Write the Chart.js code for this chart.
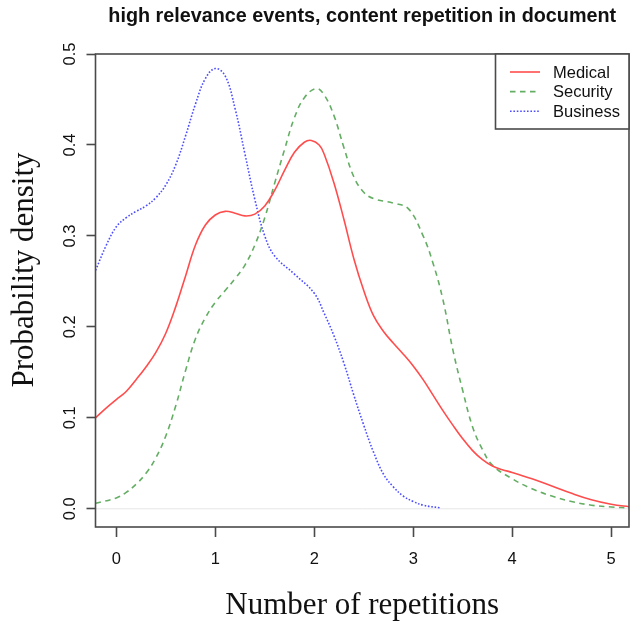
<!DOCTYPE html>
<html>
<head>
<meta charset="utf-8">
<script src="https://cdn.jsdelivr.net/npm/chart.js@4.4.1/dist/chart.umd.min.js"></script>
<style>
  html, body { margin: 0; padding: 0; background: #fff; }
  #wrap { width: 630px; height: 622px; position: relative; }
</style>
</head>
<body>
<div id="wrap"><canvas id="c" width="630" height="622"></canvas></div>
<script>
// Kernel density estimates of content repetition, one curve per domain
const seriesNames = ['Medical', 'Security', 'Business'];

const medicalX = [-0.21, -0.1, 0, 0.1, 0.2, 0.3, 0.4, 0.5, 0.6, 0.7, 0.8, 0.9, 1.0, 1.1, 1.2, 1.3, 1.4, 1.5, 1.6, 1.7, 1.8, 1.9, 1.97, 2.05, 2.1, 2.2, 2.3, 2.4, 2.5, 2.6, 2.7, 2.8, 2.9, 3.0, 3.1, 3.2, 3.3, 3.4, 3.5, 3.6, 3.7, 3.8, 3.9, 4.0, 4.2, 4.4, 4.6, 4.8, 5.0, 5.2];
const medicalY = [0.100, 0.111, 0.120, 0.129, 0.142, 0.156, 0.172, 0.193, 0.222, 0.256, 0.290, 0.312, 0.323, 0.327, 0.325, 0.322, 0.324, 0.333, 0.350, 0.372, 0.392, 0.403, 0.405, 0.400, 0.390, 0.358, 0.318, 0.275, 0.240, 0.212, 0.195, 0.182, 0.170, 0.157, 0.142, 0.125, 0.108, 0.092, 0.077, 0.064, 0.054, 0.047, 0.043, 0.040, 0.033, 0.025, 0.017, 0.010, 0.005, 0.002];

const securityX = [-0.21, 0, 0.1, 0.2, 0.3, 0.4, 0.5, 0.6, 0.7, 0.8, 0.9, 1.0, 1.1, 1.2, 1.3, 1.4, 1.5, 1.6, 1.7, 1.8, 1.9, 2.02, 2.1, 2.2, 2.3, 2.4, 2.5, 2.6, 2.8, 2.95, 3.1, 3.2, 3.3, 3.4, 3.5, 3.6, 3.7, 3.8, 4.0, 4.2, 4.4, 4.6, 4.8, 5.0, 5.2];
const securityY = [0.006, 0.012, 0.018, 0.027, 0.039, 0.056, 0.080, 0.113, 0.152, 0.187, 0.210, 0.227, 0.240, 0.253, 0.268, 0.290, 0.320, 0.358, 0.395, 0.430, 0.452, 0.462, 0.455, 0.432, 0.397, 0.365, 0.348, 0.341, 0.336, 0.330, 0.300, 0.270, 0.230, 0.175, 0.130, 0.090, 0.065, 0.048, 0.033, 0.022, 0.014, 0.008, 0.004, 0.002, 0.001];

const businessX = [-0.21, -0.1, 0, 0.1, 0.2, 0.3, 0.4, 0.5, 0.6, 0.7, 0.8, 0.9, 1.0, 1.1, 1.2, 1.3, 1.4, 1.5, 1.6, 1.8, 2.0, 2.1, 2.2, 2.3, 2.4, 2.5, 2.6, 2.7, 2.8, 2.9, 3.0, 3.1, 3.27];
const businessY = [0.262, 0.290, 0.310, 0.320, 0.327, 0.333, 0.342, 0.356, 0.378, 0.410, 0.445, 0.473, 0.484, 0.476, 0.440, 0.390, 0.340, 0.300, 0.278, 0.258, 0.237, 0.215, 0.190, 0.160, 0.125, 0.092, 0.062, 0.038, 0.024, 0.014, 0.008, 0.004, 0.001];

const xTicks = [0, 1, 2, 3, 4, 5];
const yTicks = [0.0, 0.1, 0.2, 0.3, 0.4, 0.5];

const titleText = 'high relevance events, content repetition in document';
const xTitle = 'Number of repetitions';
const yTitle = 'Probability density';

const colors = ['rgb(255,77,77)', 'rgb(100,174,100)', 'rgb(77,77,255)'];
const dashes = [[], [5.5, 4.5], [1.6, 1.8]];

const toPoints = (xs, ys) => xs.map((x, i) => ({ x, y: ys[i] }));
const seriesData = [
  toPoints(medicalX, medicalY),
  toPoints(securityX, securityY),
  toPoints(businessX, businessY)
];

const SANS = '"Liberation Sans", Arial, Helvetica, sans-serif';
const SERIF = '"Liberation Serif", "Times New Roman", serif';
const AXIS = '#4a4a4a';

// Box, zero line, titles and legend drawn around the plot
const decorations = {
  id: 'decorations',
  beforeDatasetsDraw(chart) {
    const { ctx, chartArea: a, scales: { y } } = chart;
    const y0 = y.getPixelForValue(0);
    ctx.save();
    ctx.strokeStyle = '#e6e6e6';
    ctx.lineWidth = 1;
    ctx.beginPath();
    ctx.moveTo(a.left, y0);
    ctx.lineTo(a.right, y0);
    ctx.stroke();
    ctx.restore();
  },
  afterDraw(chart) {
    const { ctx, chartArea: a } = chart;
    ctx.save();
    // plot frame
    ctx.strokeStyle = AXIS;
    ctx.lineWidth = 1.6;
    ctx.strokeRect(a.left, a.top, a.right - a.left, a.bottom - a.top);

    // main title
    const cx = (a.left + a.right) / 2;
    ctx.fillStyle = '#111';
    ctx.font = 'bold 19.8px ' + SANS;
    ctx.textAlign = 'center';
    ctx.textBaseline = 'alphabetic';
    ctx.fillText(titleText, cx, 22);

    // axis titles
    ctx.font = '31px ' + SERIF;
    ctx.fillText(xTitle, cx, 614);
    ctx.save();
    ctx.translate(33, 270);
    ctx.rotate(-Math.PI / 2);
    ctx.fillText(yTitle, 0, 0);
    ctx.restore();

    // legend
    const lx = 495.5, ly = a.top, lw = a.right - 495.5, lh = 75;
    ctx.fillStyle = '#fff';
    ctx.fillRect(lx, ly, lw, lh);
    ctx.strokeStyle = AXIS;
    ctx.lineWidth = 1.6;
    ctx.strokeRect(lx, ly, lw, lh);
    ctx.font = '16.5px ' + SANS;
    ctx.textAlign = 'left';
    ctx.textBaseline = 'middle';
    chart.data.datasets.forEach((ds, i) => {
      const rowY = 72 + i * 19.6;
      ctx.strokeStyle = ds.borderColor;
      ctx.lineWidth = ds.borderWidth;
      ctx.setLineDash(ds.borderDash || []);
      ctx.beginPath();
      ctx.moveTo(510, rowY);
      ctx.lineTo(540, rowY);
      ctx.stroke();
      ctx.setLineDash([]);
      ctx.fillStyle = '#111';
      ctx.fillText(ds.label, 553, rowY + 1);
    });
    ctx.restore();
  }
};

new Chart(document.getElementById('c'), {
  type: 'line',
  data: {
    datasets: seriesNames.map((name, i) => ({
      label: name,
      data: seriesData[i],
      borderColor: colors[i],
      borderWidth: 1.6,
      borderDash: dashes[i],
      pointRadius: 0,
      fill: false,
      tension: 0.4
    }))
  },
  options: {
    responsive: false,
    devicePixelRatio: 1,
    animation: false,
    layout: { padding: { top: 54, right: 1, left: 0, bottom: 0 } },
    plugins: { legend: { display: false }, title: { display: false }, tooltip: { enabled: false } },
    scales: {
      x: {
        type: 'linear',
        min: -0.21,
        max: 5.18,
        afterBuildTicks: s => { s.ticks = xTicks.map(v => ({ value: v })); },
        afterFit: s => { s.height = 95; },
        grid: { display: true, drawOnChartArea: false, drawTicks: true, tickLength: 10, tickColor: AXIS, tickWidth: 1.6 },
        border: { display: false },
        ticks: {
          font: { family: SANS, size: 16.5 },
          color: '#111',
          padding: 13,
          maxRotation: 0,
          autoSkip: false,
          callback: v => String(v)
        }
      },
      y: {
        type: 'linear',
        min: -0.02,
        max: 0.5,
        afterBuildTicks: s => { s.ticks = yTicks.map(v => ({ value: v })); },
        afterFit: s => { s.width = 95.5; },
        grid: { display: true, drawOnChartArea: false, drawTicks: true, tickLength: 9, tickColor: AXIS, tickWidth: 1.6 },
        border: { display: false },
        ticks: {
          font: { family: SANS, size: 16.5 },
          color: '#111',
          padding: 5,
          minRotation: 90,
          maxRotation: 90,
          crossAlign: 'center',
          autoSkip: false,
          callback: v => v.toFixed(1)
        }
      }
    }
  },
  plugins: [decorations]
});
</script>
</body>
</html>
